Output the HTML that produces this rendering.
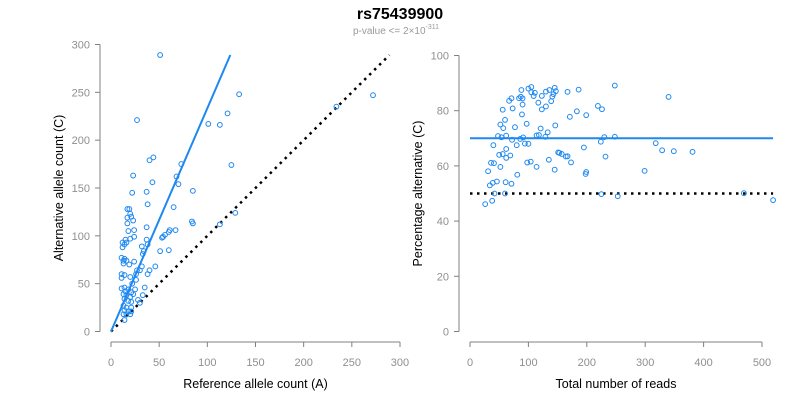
<!DOCTYPE html>
<html><head><meta charset="utf-8"><style>
body{margin:0;background:#fff}
svg{display:block;font-family:"Liberation Sans",Arial,sans-serif}
</style></head><body>
<svg id="c" width="800" height="400">
<text x="400" y="19" text-anchor="middle" font-size="16" font-weight="bold" fill="#000">rs75439900</text>
<text x="396" y="34" text-anchor="middle" font-size="10" fill="#999">p-value &lt;= 2×10<tspan dy="-5" font-size="7">-311</tspan></text>
</svg>
<script>
const refA = [51,133,272,121,27,101,113,234,40,44,73,125,23,68,70,43,22,37,85,38,65,17,19,20,21,17,23,17,129,84,85,113,37,18,24,67,61,60,56,54,53,20,24,15,12,16,14,37,38,32,60,51,11,14,16,13,13,34,33,24,46,40,32,27,30,11,14,11,20,26,26,38,11,14,18,21,25,35,13,16,20,23,33,28,30,14,18,21,13,16,21,14,18,21,13,16,20,14,12,19,22,15];
const altC = [289,248,247,228,221,217,216,235,179,182,175,174,163,162,154,156,145,146,147,133,130,128,128,123,120,119,116,113,124,115,113,112,109,105,106,106,106,104,101,99,98,97,99,96,93,93,91,96,91,89,85,84,77,76,74,74,71,84,81,73,68,64,68,64,64,60,59,56,57,60,54,60,45,46,44,41,44,46,39,38,36,39,38,33,30,34,32,31,27,25,25,22,21,21,18,18,18,12,88,70,50,42];
const leftXTicks = [0,50,100,150,200,250,300];
const leftYTicks = [0,50,100,150,200,250,300];
const rightXTicks = [0,100,200,300,400,500];
const rightYTicks = [0,20,40,60,80,100];
const pctFit = 70;
const nullPct = 50;

const svg = document.getElementById('c');
const NS = 'http://www.w3.org/2000/svg';
function mk(tag, attrs, parent){const e=document.createElementNS(NS,tag);for(const k in attrs)e.setAttribute(k,attrs[k]);(parent||svg).appendChild(e);return e;}
const lx = v => 111 + v*0.9633, ly = v => 331.5 - v*0.9567;
const rx = v => 470 + v*0.584, ry = v => 331.5 - v*2.76;
const AX='#808080', TK='#8f8f8f';

function axes(xs, ys, xT, yT, yAxisX, xTitle, yTitle, pre){
  const xa = mk('line',{x1:xs(xT[0]),x2:xs(xT[xT.length-1]),y1:342,y2:342,stroke:AX});
  
  
  xT.forEach(t=>{
    mk('line',{x1:xs(t),x2:xs(t),y1:342,y2:347,stroke:AX});
    const l = mk('text',{x:xs(t),y:366,'text-anchor':'middle','font-size':11,fill:TK}); l.textContent=t;
    
    
  });
  const ya = mk('line',{x1:yAxisX,x2:yAxisX,y1:ys(yT[0]),y2:ys(yT[yT.length-1]),stroke:AX});
  
  
  yT.forEach(t=>{
    mk('line',{x1:yAxisX-5,x2:yAxisX,y1:ys(t),y2:ys(t),stroke:AX});
    const l = mk('text',{x:yAxisX-10,y:ys(t)+4,'text-anchor':'end','font-size':11,fill:TK}); l.textContent=t;
    
    
  });
  const xt = mk('text',{x:(xs(xT[0])+xs(xT[xT.length-1]))/2,y:388,'text-anchor':'middle','font-size':12.5,fill:'#000'}); xt.textContent=xTitle;
  
  
  const cy=(ys(yT[0])+ys(yT[yT.length-1]))/2, cx=yAxisX-37;
  const yt = mk('text',{x:cx,y:cy,'text-anchor':'middle','font-size':12.5,fill:'#000',transform:`rotate(-90 ${cx} ${cy})`}); yt.textContent=yTitle;
  
  
}
axes(lx, ly, leftXTicks, leftYTicks, 100, 'Reference allele count (A)', 'Alternative allele count (C)', 'left');
axes(rx, ry, rightXTicks, rightYTicks, 459, 'Total number of reads', 'Percentage alternative (C)', 'right');

const maxC = Math.max(...altC);
const maxT = Math.max(...refA.map((a,i)=>a+altC[i]));
// left: null diagonal
const d1 = mk('line',{x1:lx(0),y1:ly(0),x2:lx(maxC),y2:ly(maxC),stroke:'#000','stroke-width':2.5,'stroke-dasharray':'2.5 4.5'});


// left: fitted line
const slope = pctFit/(100-pctFit);
const f1 = mk('line',{x1:lx(0),y1:ly(0),x2:lx(maxC/slope),y2:ly(maxC),stroke:'#1e88f0','stroke-width':2});


// right lines
const d2 = mk('line',{x1:rx(0),y1:ry(nullPct),x2:rx(maxT),y2:ry(nullPct),stroke:'#000','stroke-width':2.5,'stroke-dasharray':'2.5 4.5'});


const f2 = mk('line',{x1:rx(0),y1:ry(pctFit),x2:rx(maxT),y2:ry(pctFit),stroke:'#1e88f0','stroke-width':2});



refA.forEach((a,i)=>{
  const c = altC[i];
  const p1 = mk('circle',{cx:lx(a),cy:ly(c),r:2.4,fill:'none',stroke:'#1e88f0','stroke-width':1});
  
  
  const t = a+c;
  const p2 = mk('circle',{cx:rx(t),cy:ry(100*c/t),r:2.4,fill:'none',stroke:'#1e88f0','stroke-width':1});
  
  
});
</script>
</body></html>
